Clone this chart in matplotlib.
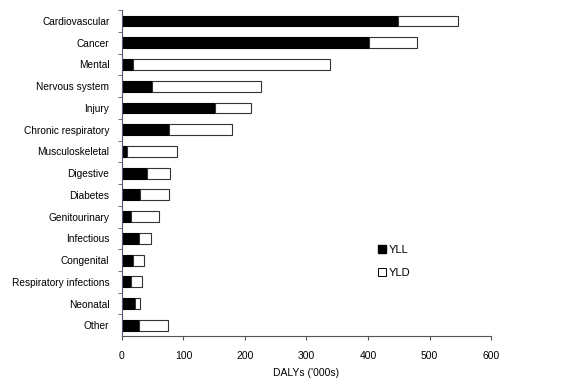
import matplotlib.pyplot as plt
from matplotlib.lines import Line2D

plt.rcParams['font.family'] = ['Liberation Sans', 'DejaVu Sans']

categories = ['Cardiovascular', 'Cancer', 'Mental', 'Nervous system', 'Injury',
              'Chronic respiratory', 'Musculoskeletal', 'Digestive', 'Diabetes',
              'Genitourinary', 'Infectious', 'Congenital', 'Respiratory infections',
              'Neonatal', 'Other']
yll = [448, 401, 18, 49, 152, 76, 8, 41, 30, 15, 27, 18, 15, 21, 28]
dalys = [546, 479, 338, 226, 210, 179, 89, 78, 76, 61, 47, 36, 32, 30, 75]
yld = [t - l for t, l in zip(dalys, yll)]

fig = plt.figure(figsize=(5.75, 3.9), dpi=100)
ax = fig.add_axes([0.212, 0.138, 0.642, 0.836])

pos = list(range(len(categories)))[::-1]
ax.barh(pos, yll, height=0.5, color='black', edgecolor='black', linewidth=0.8)
ax.barh(pos, yld, left=yll, height=0.5, color='white', edgecolor='#333333', linewidth=0.8)

ax.set_ylim(-0.5, len(categories) - 0.5)
ax.set_xlim(0, 600)
ax.set_xticks(range(0, 601, 100))
ax.set_yticks(pos)
ax.set_yticklabels(categories, fontsize=7.3)
ax.set_yticks([p + 0.5 for p in range(len(categories))], minor=True)
ax.tick_params(axis='y', which='major', length=0, pad=9)
ax.tick_params(axis='y', which='minor', length=3, color='#555577')
ax.tick_params(axis='x', labelsize=7.5, length=3, color='#555555', pad=8)
ax.set_xlabel("DALYs ('000s)", fontsize=7.5, labelpad=5)

for s in ['top', 'right']:
    ax.spines[s].set_visible(False)
ax.spines['left'].set_color('#555577')
ax.spines['bottom'].set_color('#555555')

handles = [Line2D([], [], marker='s', ls='', color='black', markersize=6),
           Line2D([], [], marker='s', ls='', markerfacecolor='white',
                  markeredgecolor='black', markeredgewidth=0.7, markersize=6)]
ax.legend(handles, ['YLL', 'YLD'], loc='center left', bbox_to_anchor=(0.663, 0.23),
          frameon=False, fontsize=8, handletextpad=0.1, labelspacing=1.2,
          handlelength=1.0)

plt.savefig('out.png', dpi=100)
